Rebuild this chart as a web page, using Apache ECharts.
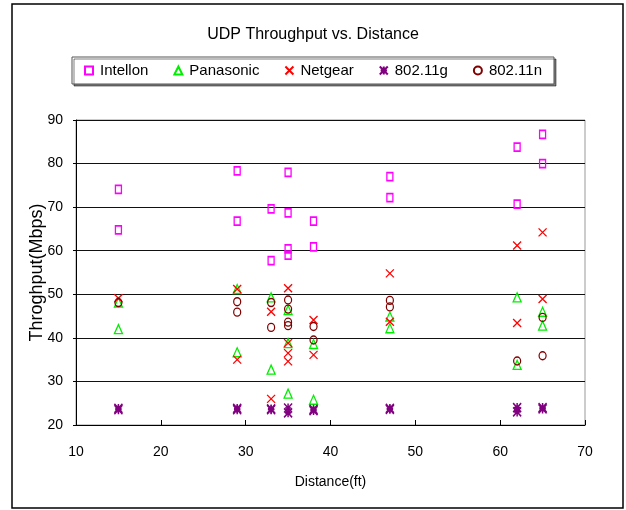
<!DOCTYPE html>
<html>
<head>
<meta charset="utf-8">
<script src="https://cdn.jsdelivr.net/npm/echarts@6/dist/echarts.min.js"></script>
<style>
  html, body {margin: 0; padding: 0; background: #fff;}
  #chart {width: 626px; height: 510px;}
</style>
</head>
<body>
<div id="chart"></div>
<script>
// distance (ft), throughput (Mbps)
const intellon = [
  [15, 74.1], [15, 64.8], [29, 78.3], [29, 66.8], [33, 69.6], [33, 57.7],
  [35, 78.0], [35, 68.7], [35, 60.4], [35, 59.0], [38, 66.8], [38, 60.9],
  [47, 77.0], [47, 72.2], [62, 83.8], [62, 70.7], [65, 86.7], [65, 80.0]
];
const panasonic = [
  [15, 48.1], [15, 42.0], [29, 51.2], [29, 36.7], [33, 49.3], [33, 32.7],
  [35, 46.4], [35, 38.8], [35, 27.2], [38, 38.6], [38, 25.8],
  [47, 44.9], [47, 42.2], [62, 49.3], [62, 33.8], [65, 46.0], [65, 42.8]
];
const netgear = [
  [15, 49.1], [29, 51.2], [29, 35.0], [33, 46.0], [33, 26.0],
  [35, 51.4], [35, 38.8], [35, 36.5], [35, 34.6], [38, 44.1], [38, 36.1],
  [47, 54.8], [47, 43.7], [62, 61.2], [62, 43.4], [65, 64.2], [65, 48.9]
];
const g80211 = [
  [15, 23.8], [15, 23.5], [29, 23.5], [29, 23.8], [33, 23.5], [33, 23.7],
  [35, 23.9], [35, 22.8], [38, 23.3], [38, 23.6], [47, 23.6], [47, 23.8],
  [62, 24.0], [62, 23.0], [65, 23.7], [65, 24.0]
];
const n80211 = [
  [15, 48.1], [29, 48.3], [29, 45.9], [33, 48.1], [33, 42.4],
  [35, 48.7], [35, 46.6], [35, 43.6], [35, 42.8], [38, 42.6], [38, 39.5],
  [47, 48.6], [47, 47.1], [62, 34.7], [65, 44.7], [65, 35.9]
];
const xTicks = {min: 10, max: 70, interval: 10};
const yTicks = {min: 20, max: 90, interval: 10};

const FONT = "'Liberation Sans', Arial, sans-serif";
const CROSS = 'path://M0,0L10,10M10,0L0,10';
const STAR = 'path://M0,0L10,10M10,0L0,10M5,0L5,10M1,5L9,5';

function hollow(name, data, symbol, size, color, bw) {
  return {
    name, type: 'scatter', data, symbol, symbolSize: size,
    itemStyle: {color: 'transparent', borderColor: color, borderWidth: bw || 1.3, opacity: 1},
    emphasis: {disabled: true},
  };
}

const chart = echarts.init(document.getElementById('chart'), null, {renderer: 'canvas'});
chart.setOption({
  animation: false,
  backgroundColor: '#fff',
  textStyle: {fontFamily: FONT, color: '#000'},
  title: {
    text: 'UDP Throughput vs. Distance',
    left: 'center', top: 22,
    textStyle: {fontFamily: FONT, fontSize: 16, fontWeight: 'normal', color: '#000'}
  },
  legend: {
    left: 72, top: 57,
    padding: [6, 12, 6, 12],
    itemGap: 25,
    itemWidth: 8, itemHeight: 8,
    borderColor: '#555', borderWidth: 1,
    shadowColor: 'rgba(0,0,0,0.5)', shadowOffsetX: 2, shadowOffsetY: 2,
    backgroundColor: '#fff',
    textStyle: {fontFamily: FONT, fontSize: 15, color: '#000', padding: [0, 0, 0, 2]},
    data: ['Intellon', 'Panasonic', 'Netgear', '802.11g', '802.11n']
  },
  grid: {
    left: 76, top: 120, width: 509, height: 305,
    show: true, borderColor: '#999', borderWidth: 1
  },
  xAxis: {
    type: 'value', ...xTicks,
    name: 'Distance(ft)', nameLocation: 'middle', nameGap: 50,
    nameMoveOverlap: false,
    nameTextStyle: {fontFamily: FONT, fontSize: 14, color: '#000'},
    axisLine: {lineStyle: {color: '#000', width: 1}},
    axisTick: {inside: true, length: 5, lineStyle: {color: '#000'}},
    axisLabel: {fontFamily: FONT, fontSize: 14, color: '#000', margin: 20},
    splitLine: {show: false}
  },
  yAxis: {
    type: 'value', ...yTicks,
    name: 'Throghput(Mbps)', nameLocation: 'middle', nameGap: 30,
    nameMoveOverlap: false,
    nameTextStyle: {fontFamily: FONT, fontSize: 18, color: '#000'},
    axisLine: {show: true, lineStyle: {color: '#000', width: 1}},
    axisTick: {show: true, length: 3, lineStyle: {color: '#000'}},
    axisLabel: {fontFamily: FONT, fontSize: 14, color: '#000', margin: 13},
    splitLine: {show: true, lineStyle: {color: '#111', width: 1}}
  },
  series: [
    hollow('Intellon', intellon, 'rect', [6, 8], '#ff00ff', 1.5),
    hollow('Panasonic', panasonic, 'triangle', [8, 9], '#00ee00', 1.3),
    hollow('Netgear', netgear, CROSS, [8, 8], '#ff0000', 1.3),
    hollow('802.11g', g80211, STAR, [8, 9], '#800080', 1.6),
    hollow('802.11n', n80211, 'circle', [7, 8], '#800000', 1.3)
  ],
  graphic: [{
    type: 'rect', silent: true, z: -1,
    shape: {x: 12, y: 4, width: 611, height: 504},
    style: {fill: 'none', stroke: '#000', lineWidth: 1.5}
  }]
});
</script>
</body>
</html>
